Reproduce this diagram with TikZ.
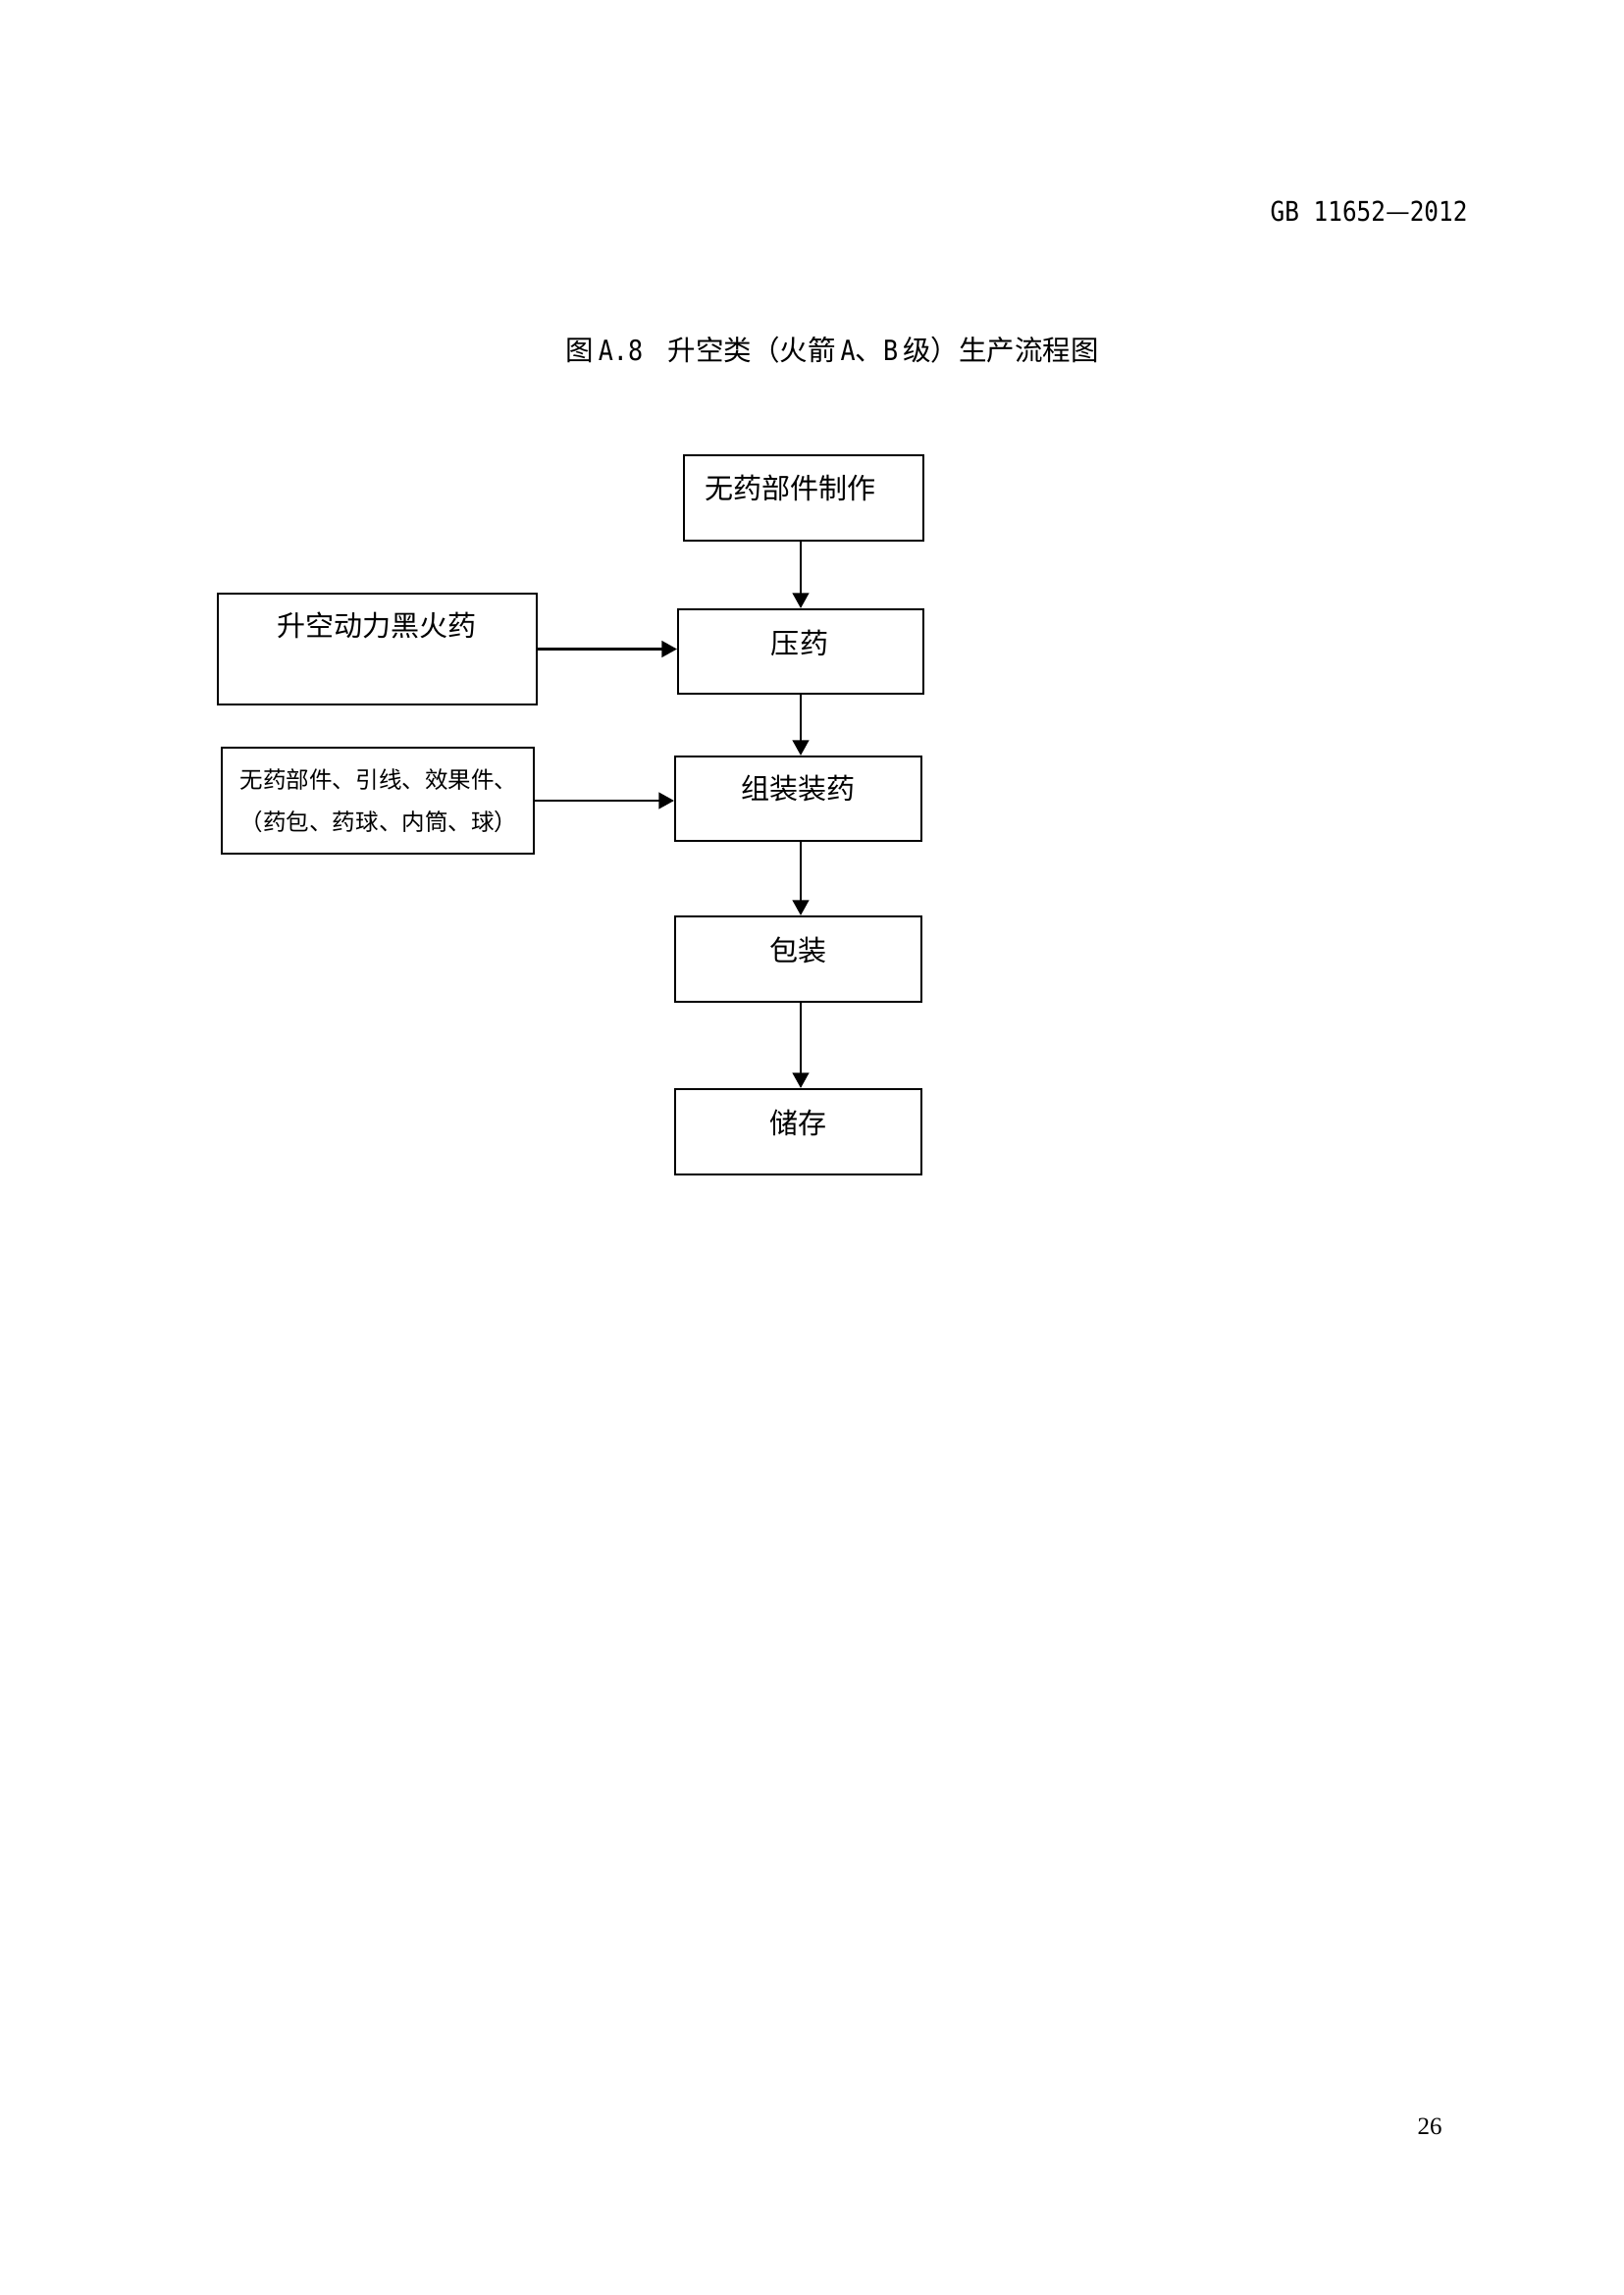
\documentclass[tikz,border=0pt]{standalone}
\usepackage{fontspec}
\setmainfont{Liberation Serif}
\newfontfamily\cjk{Noto Sans CJK SC}
\newfontfamily\hdr[FakeStretch=0.88]{DejaVu Sans Mono}
\usetikzlibrary{arrows.meta}
\newlength\pxu
\setlength\pxu{0.12697mm}
\begin{document}
\begin{tikzpicture}[x=0.12697mm, y=-0.12697mm,
  box/.style={draw, line width=0.8pt, inner sep=0pt},
  txt/.style={inner sep=0pt, font=\cjk\fontsize{10.5pt}{12pt}\selectfont},
  small/.style={inner sep=0pt, align=center, font=\cjk\fontsize{8.5pt}{15.5pt}\selectfont},
  arr/.style={-{Triangle[length=5.6pt,width=6pt]}, line width=0.8pt}]
\useasboundingbox (0,0) rectangle (1654,2339);
% header, title, page number
\node[inner sep=0pt, anchor=east, font=\hdr\fontsize{10pt}{12pt}\selectfont] (hd) at (1496,215) {GB 11652{\cjk —}2012};
\node[inner sep=0pt, anchor=west, font=\cjk\fontsize{10.3pt}{12pt}\selectfont] (tt) at (576,357)
  {图{\hdr\,A.8}\hspace{0.9em}升空类（火箭{\hdr\,A}、{\hdr B\,}级）生产流程图};
\node[inner sep=0pt, font=\fontsize{9pt}{11pt}\selectfont] (pg) at (1457,2167) {26};
% boxes
\node[box, minimum width=244\pxu, minimum height=87\pxu] (b1) at (819,507.5) {};
\node[box, minimum width=250\pxu, minimum height=86\pxu] (b2) at (816,664) {};
\node[box, minimum width=251\pxu, minimum height=86\pxu] (b3) at (813.5,814) {};
\node[box, minimum width=251\pxu, minimum height=87\pxu] (b4) at (813.5,977.5) {};
\node[box, minimum width=251\pxu, minimum height=87\pxu] (b5) at (813.5,1153.5) {};
\node[box, minimum width=325\pxu, minimum height=113\pxu] (l1) at (384.5,661.5) {};
\node[box, minimum width=318\pxu, minimum height=108\pxu] (l2) at (385,816) {};
% texts
\node[txt, anchor=west] (t1) at (718,497.5) {无药部件制作};
\node[txt] (t2) at (815,655) {压药};
\node[txt] (t3) at (813.5,804) {组装装药};
\node[txt] (t4) at (813.5,968) {包装};
\node[txt] (t5) at (813.5,1144.5) {储存};
\node[txt] (tl1) at (384,637.5) {升空动力黑火药};
\node[small] (tl2) at (386,816.5) {无药部件、引线、效果件、\\（药包、药球、内筒、球）};
% connectors
\coordinate (ax) at (816,0);
\draw[arr] (b1.south -| ax) -- (b2.north -| ax);
\draw[arr] (b2.south -| ax) -- (b3.north -| ax);
\draw[arr] (b3.south -| ax) -- (b4.north -| ax);
\draw[arr] (b4.south -| ax) -- (b5.north -| ax);
\draw[arr] (l1.east) -- (l1.east -| b2.west);
\draw[arr] (l2.east) -- (l2.east -| b3.west);
\end{tikzpicture}
\end{document}
